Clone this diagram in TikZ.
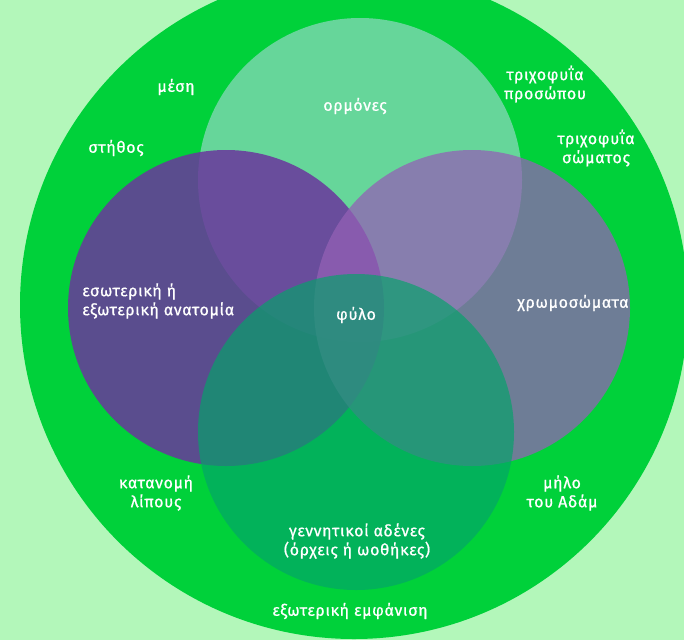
\documentclass[tikz,border=0pt]{standalone}
\usepackage{fontspec}
\setmainfont{Fira Sans}
\newfontfamily\lblfont{Fira Sans}[FakeBold=0.8,LetterSpace=4]
\definecolor{bgl}{RGB}{179,247,186}
\definecolor{bigg}{RGB}{0,209,58}
\definecolor{topc}{RGB}{102,214,154}
\definecolor{leftc}{RGB}{106,54,157}
\definecolor{rightc}{RGB}{147,97,181}
\definecolor{botc}{RGB}{4,163,106}
\begin{document}
\begin{tikzpicture}[x=1pt,y=-1pt,
  lbl/.style={text=white,font=\lblfont\fontsize{16}{19}\selectfont,align=center,inner sep=0pt}]
\useasboundingbox (0,0) rectangle (684,640);
\clip (0,0) rectangle (684,640);
\fill[bgl] (0,0) rectangle (684,640);
\fill[bigg] (354,305) circle[radius=334pt];
\fill[topc] (360,180) circle[radius=162pt];
\fill[leftc,fill opacity=0.85] (226,308) circle[radius=158pt];
\fill[rightc,fill opacity=0.75] (472,308) circle[radius=158pt];
\fill[botc,fill opacity=0.67] (356,432) circle[radius=158pt];
\node[lbl] (mesi) at (176,87) {μέση};
\node[lbl] (stithos) at (116,148) {στήθος};
\node[lbl] (ormones) at (355,106) {ορμόνες};
\node[lbl] (prosopo) at (545,84) {τριχοφυΐα\\προσώπου};
\node[lbl] (soma) at (596,148) {τριχοφυΐα\\σώματος};
\node[lbl,align=left,anchor=west] (anat) at (82,301) {εσωτερική ή\\εξωτερική ανατομία};
\node[lbl] (fylo) at (356,315) {φύλο};
\node[lbl] (chrom) at (573,303) {χρωμοσώματα};
\node[lbl] (lipos) at (156,493) {κατανομή\\λίπους};
\node[lbl] (adam) at (562,493) {μήλο\\του Αδάμ};
\node[lbl] (aden) at (357,541) {γεννητικοί αδένες\\(όρχεις ή ωοθήκες)};
\node[lbl] (emf) at (350,611) {εξωτερική εμφάνιση};
\end{tikzpicture}
\end{document}
